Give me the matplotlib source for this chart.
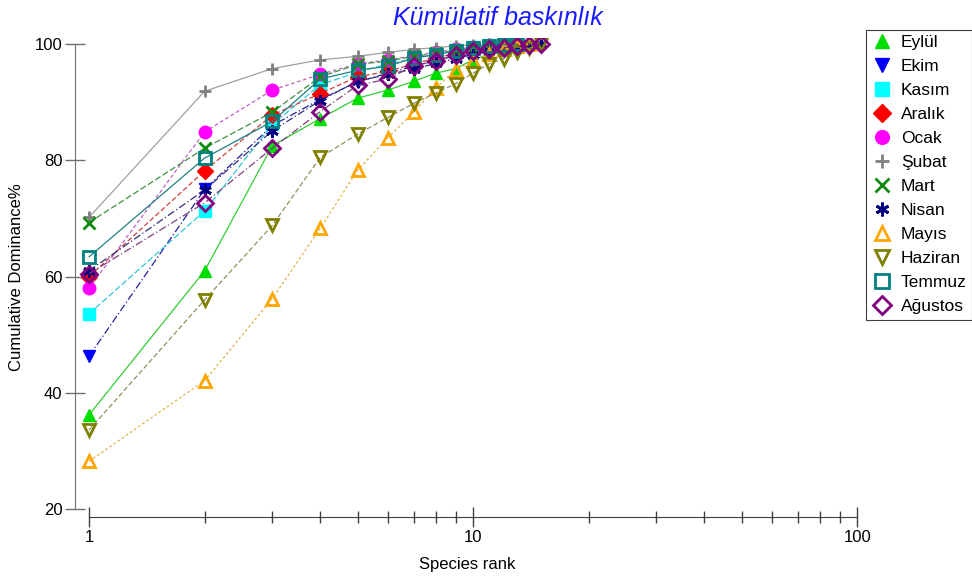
import numpy as np
import matplotlib.pyplot as plt
from matplotlib.ticker import LogLocator, NullFormatter, FixedLocator

plt.rcParams['font.family'] = ['Liberation Sans', 'DejaVu Sans']

# cumulative dominance (%) by species rank, one list per month
months = ["Eylül", "Ekim", "Kasım", "Aralık", "Ocak", "Şubat",
          "Mart", "Nisan", "Mayıs", "Haziran", "Temmuz", "Ağustos"]
eylul = [36.2, 61.0, 82.5, 87.2, 90.7, 92.1, 93.6, 95.0, 95.8, 97.3, 98.3, 99.0, 99.5, 100]
ekim = [46.3, 75.0, 86.0, 90.5, 93.5, 95.0, 96.2, 97.2, 98.0, 98.7, 99.3, 99.7, 100]
kasim = [53.6, 71.3, 86.2, 93.0, 95.2, 96.6, 97.5, 98.3, 99.0, 99.5, 99.8, 100]
aralik = [60.0, 78.2, 87.8, 91.5, 94.4, 95.3, 96.6, 97.6, 98.4, 99.0, 99.5, 99.8, 100]
ocak = [58.0, 84.9, 92.1, 94.8, 96.6, 97.3, 98.0, 98.6, 99.1, 99.5, 99.8, 100]
subat = [70.2, 91.9, 95.8, 97.3, 97.9, 98.6, 99.1, 99.4, 99.7, 99.9, 100]
mart = [69.3, 82.1, 88.3, 94.4, 96.5, 97.1, 97.9, 98.4, 98.9, 99.3, 99.7, 100]
nisan = [61.0, 74.9, 85.1, 90.3, 93.6, 94.8, 95.7, 96.7, 97.5, 98.2, 98.8, 99.2, 99.6, 99.8, 100]
mayis = [28.2, 42.1, 56.2, 68.3, 78.3, 83.9, 88.3, 92.5, 95.6, 97.1, 98.3, 99.1, 99.6, 100]
haziran = [33.6, 56.0, 68.8, 80.5, 84.5, 87.4, 89.8, 91.6, 93.2, 95.0, 96.6, 97.5, 98.6, 99.3, 100]
temmuz = [63.4, 80.4, 86.7, 94.0, 95.5, 96.2, 97.6, 98.2, 98.8, 99.3, 99.7, 99.9, 100]
agustos = [60.5, 72.7, 82.1, 88.4, 92.9, 94.0, 96.3, 97.1, 98.2, 98.9, 99.1, 99.4, 99.6, 99.8, 100]

series = [eylul, ekim, kasim, aralik, ocak, subat, mart, nisan, mayis, haziran, temmuz, agustos]

# (colour, marker, filled, line colour, line style)
styles = [
    ("#00dd00", "^", True, "#33cc33", "-"),
    ("#0000ff", "v", True, "#2020a0", (0, (6, 2, 1, 2))),
    ("#00ffff", "s", True, "#30c8d8", (0, (5, 2))),
    ("#ff0000", "D", True, "#d04040", (0, (4, 2))),
    ("#ff00ff", "o", True, "#c060c0", (0, (3, 2))),
    ("#808080", "+", True, "#a0a0a0", "-"),
    ("#108a10", "x", True, "#409040", (0, (5, 2))),
    ("#000080", (6, 2, 0), True, "#303080", (0, (6, 2, 1, 2))),
    ("#ffa500", "^", False, "#e0b040", (0, (2, 2))),
    ("#808000", "v", False, "#909060", (0, (4, 2))),
    ("#008080", "s", False, "#208080", "-"),
    ("#800080", "D", False, "#804080", (0, (6, 2, 1, 2))),
]

fig = plt.figure(figsize=(9.72, 5.78), dpi=100)
ax = fig.add_axes([0.0772, 0.1055, 0.8078, 0.8285])

for name, vals, (col, mk, filled, lcol, ls) in zip(months, series, styles):
    r = np.arange(1, len(vals) + 1)
    kw = dict(marker=mk, markersize=9, color=lcol, linestyle=ls, linewidth=0.9, label=name)
    if filled:
        kw.update(markerfacecolor=col, markeredgecolor=col, markeredgewidth=2 if mk in ("+", "x", (6, 2, 0)) else 1)
    else:
        kw.update(markerfacecolor="none", markeredgecolor=col, markeredgewidth=2)
    if mk == "D":
        kw["markersize"] = 8
    ax.plot(r, vals, **kw)

ax.set_xscale("log")
ax.set_xlim(10 ** (-14 / 384), 10 ** (3 / 384) * 100)
ax.set_ylim(20 - 8 / 5.8125, 100 + 6 / 5.8125)

for s in ["top", "right"]:
    ax.spines[s].set_visible(False)
ax.spines["bottom"].set_bounds(1, 100)
ax.spines["left"].set_bounds(20, 100)
ax.spines["bottom"].set_color("#404040")
ax.spines["left"].set_color("#707070")

ax.xaxis.set_major_locator(FixedLocator([1, 10, 100]))
ax.set_xticklabels(["1", "10", "100"])
ax.xaxis.set_minor_locator(LogLocator(base=10, subs=np.arange(2, 10)))
ax.xaxis.set_minor_formatter(NullFormatter())
ax.set_yticks([20, 40, 60, 80, 100])

ax.tick_params(axis="x", which="major", direction="inout", length=14, width=1, colors="#404040",
               labelsize=12, labelcolor="black", pad=2)
ax.tick_params(axis="x", which="minor", direction="inout", length=9, width=1, colors="#404040")
ax.tick_params(axis="y", direction="inout", length=14, width=1, colors="#707070",
               labelsize=12, labelcolor="black", pad=2)

ax.set_xlabel("Species rank", fontsize=12, labelpad=9)
ax.set_ylabel("Cumulative Dominance%", fontsize=12, labelpad=8)
fig.text(0.512, 0.968, "Kümülatif baskınlık", color="#1a1aff", fontsize=18,
         style="italic", ha="center", va="center")

leg = fig.legend(loc="upper left", bbox_to_anchor=(866 / 972, 1 - 30 / 578),
                 fontsize=12.5, frameon=True, fancybox=False, framealpha=1,
                 edgecolor="#404040", borderpad=0.3, labelspacing=0.51,
                 handlelength=1.3, handletextpad=0.4, borderaxespad=0, markerscale=1.1)
leg.get_frame().set_linewidth(0.8)
for h in leg.legend_handles:
    h.set_linestyle("none")

fig.savefig("out.png", dpi=100)
